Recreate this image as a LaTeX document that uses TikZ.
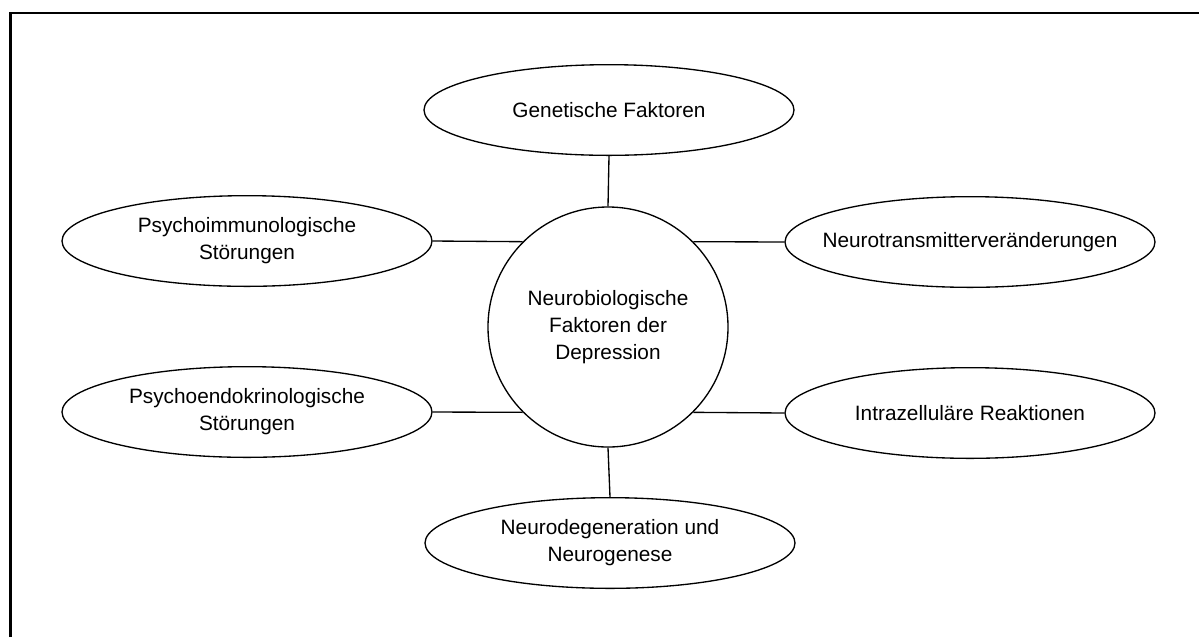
\documentclass[tikz,border=0pt]{standalone}
\usepackage{fontspec}
\setmainfont{Liberation Sans}
\usetikzlibrary{shapes.geometric}
\begin{document}
\begin{tikzpicture}[x=0.75pt,y=-0.75pt,
  topic/.style={draw,line width=1pt,ellipse,inner sep=0pt,
    minimum width=277.5pt,minimum height=68pt,align=center,
    font=\fontsize{15.6}{20.25}\selectfont},
  hub/.style={draw,line width=1pt,circle,inner sep=0pt,
    minimum size=180pt,align=center,
    font=\fontsize{15.6}{20.25}\selectfont},
  link/.style={line width=1pt}]
\useasboundingbox (0,0) rectangle (1199,637);
% open frame: left and top edges
\draw[line width=1.6pt] (10.5,637) -- (10.5,13) -- (1199,13);

\node[hub] (core) at (608,327) {Neurobiologische\\Faktoren der\\Depression};

\node[topic] (gen) at (609,110) {Genetische Faktoren};
\node[topic] (immun) at (247,241) {Psychoimmunologische\\Störungen};
\node[topic,inner xsep=-20pt] (trans) at (970,242) {Neurotransmitterveränderungen};
\node[topic] (endo) at (247,412) {Psychoendokrinologische\\Störungen};
\node[topic] (intra) at (970,413) {Intrazelluläre Reaktionen};
\node[topic] (degen) at (610,543) {Neurodegeneration und\\Neurogenese};

\draw[link] (gen.south) -- (core.north);
\draw[link] (immun.east) -- (core.135);
\draw[link] (trans.west) -- (core.45);
\draw[link] (endo.east) -- (core.225);
\draw[link] (intra.west) -- (core.315);
\draw[link] (degen.north) -- (core.south);
\end{tikzpicture}
\end{document}
